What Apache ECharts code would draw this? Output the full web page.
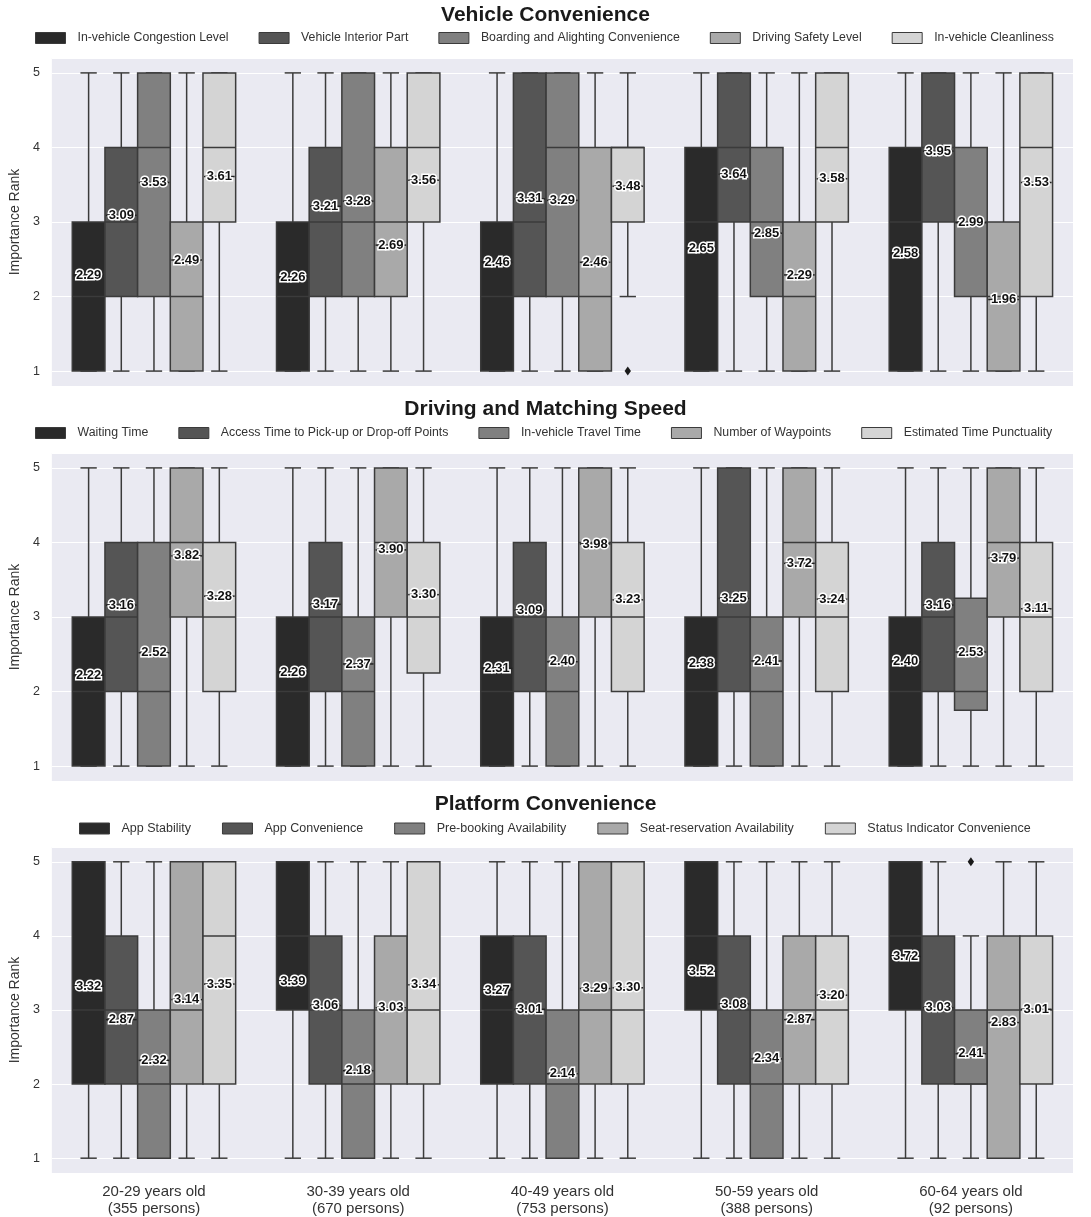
<!DOCTYPE html>
<html>
<head>
<meta charset="utf-8">
<script src="https://cdn.jsdelivr.net/npm/echarts@6/dist/echarts.min.js"></script>
<style>
html,body{margin:0;padding:0;background:#fff;}
#chart{width:1091px;height:1217px;}
</style>
</head>
<body>
<div id="chart"></div>
<script>
// ---------- DATA ----------
const categories = [
  '20-29 years old\n(355 persons)',
  '30-39 years old\n(670 persons)',
  '40-49 years old\n(753 persons)',
  '50-59 years old\n(388 persons)',
  '60-64 years old\n(92 persons)'
];
const panelTitles = ['Vehicle Convenience', 'Driving and Matching Speed', 'Platform Convenience'];
const yTicks = [1, 2, 3, 4, 5];

const vcSeries = ['In-vehicle Congestion Level', 'Vehicle Interior Part', 'Boarding and Alighting Convenience', 'Driving Safety Level', 'In-vehicle Cleanliness'];
const dmSeries = ['Waiting Time', 'Access Time to Pick-up or Drop-off Points', 'In-vehicle Travel Time', 'Number of Waypoints', 'Estimated Time Punctuality'];
const pcSeries = ['App Stability', 'App Convenience', 'Pre-booking Availability', 'Seat-reservation Availability', 'Status Indicator Convenience'];

// [min, Q1, median, Q3, max] per series (rows) and age group (columns)
const vcBox = [
  [[1,1,2,3,5],[1,1,2,3,5],[1,1,2,3,5],[1,1,3,4,5],[1,1,3,4,5]],
  [[1,2,3,4,5],[1,2,3,4,5],[1,2,3,5,5],[1,3,4,5,5],[1,3,4,5,5]],
  [[1,2,4,5,5],[1,2,3,5,5],[1,2,4,5,5],[1,2,3,4,5],[1,2,3,4,5]],
  [[1,1,2,3,5],[1,2,3,4,5],[1,1,2,4,5],[1,1,2,3,5],[1,1,2,3,5]],
  [[1,3,4,5,5],[1,3,4,5,5],[2,3,4,4,5],[1,3,4,5,5],[1,2,4,5,5]]
];
const dmBox = [
  [[1,1,2,3,5],[1,1,2,3,5],[1,1,2,3,5],[1,1,2,3,5],[1,1,2,3,5]],
  [[1,2,3,4,5],[1,2,3,4,5],[1,2,3,4,5],[1,2,3,5,5],[1,2,3,4,5]],
  [[1,1,2,4,5],[1,1,2,3,5],[1,1,2,3,5],[1,1,2,3,5],[1,1.75,2,3.25,5]],
  [[1,3,4,5,5],[1,3,4,5,5],[1,3,4,5,5],[1,3,4,5,5],[1,3,4,5,5]],
  [[1,2,3,4,5],[1,2.25,3,4,5],[1,2,3,4,5],[1,2,3,4,5],[1,2,3,4,5]]
];
const pcBox = [
  [[1,2,3,5,5],[1,3,4,5,5],[1,2,3,4,5],[1,3,4,5,5],[1,3,4,5,5]],
  [[1,2,3,4,5],[1,2,3,4,5],[1,2,3,4,5],[1,2,3,4,5],[1,2,3,4,5]],
  [[1,1,2,3,5],[1,1,2,3,5],[1,1,2,3,5],[1,1,2,3,5],[1,2,2,3,4]],
  [[1,2,3,5,5],[1,2,3,4,5],[1,2,3,5,5],[1,2,3,4,5],[1,1,3,4,5]],
  [[1,2,4,5,5],[1,2,3,5,5],[1,2,3,5,5],[1,2,3,4,5],[1,2,3,4,5]]
];

// mean values (labels)
const vcMean = [[2.29,2.26,2.46,2.65,2.58],[3.09,3.21,3.31,3.64,3.95],[3.53,3.28,3.29,2.85,2.99],[2.49,2.69,2.46,2.29,1.96],[3.61,3.56,3.48,3.58,3.53]];
const dmMean = [[2.22,2.26,2.31,2.38,2.40],[3.16,3.17,3.09,3.25,3.16],[2.52,2.37,2.40,2.41,2.53],[3.82,3.90,3.98,3.72,3.79],[3.28,3.30,3.23,3.24,3.11]];
const pcMean = [[3.32,3.39,3.27,3.52,3.72],[2.87,3.06,3.01,3.08,3.03],[2.32,2.18,2.14,2.34,2.41],[3.14,3.03,3.29,2.87,2.83],[3.35,3.34,3.30,3.20,3.01]];

// outliers: [seriesIndex, categoryIndex, value]
const vcOutliers = [[4, 2, 1]];
const dmOutliers = [];
const pcOutliers = [[2, 4, 5]];

// ---------- STYLE ----------
const FONT = '"Liberation Sans", Arial, Helvetica, sans-serif';
const fills = ['#2a2a2a', '#555555', '#808080', '#a9a9a9', '#d4d4d4'];
const edge = '#3b3b3b';
const gridTops = [58, 453, 847];
const gridH = 328;
const titleTops = [5, 399, 794];
const legendTops = [32, 427, 822];
const legendLefts = [35, 35, 79];
const legendFont = [12.3, 12.3, 12.5];
const legendGap = [30, 30, 31];

const panels = [
  {names: vcSeries, box: vcBox, mean: vcMean, out: vcOutliers},
  {names: dmSeries, box: dmBox, mean: dmMean, out: dmOutliers},
  {names: pcSeries, box: pcBox, mean: pcMean, out: pcOutliers}
];

function geom(api, cat, sIdx) {
  const band = api.size([1, 0])[0];
  const boxW = band * 0.8 / 5;
  const cx = api.coord([cat, 3])[0] + (sIdx - 2) * boxW;
  return {boxW, cx};
}

function boxRenderer(sIdx) {
  return function (params, api) {
    const cat = api.value(0);
    const v = [api.value(1), api.value(2), api.value(3), api.value(4), api.value(5)];
    const g = geom(api, cat, sIdx);
    const y = val => api.coord([cat, val])[1];
    const half = g.boxW / 2, cap = g.boxW / 4;
    const ls = {stroke: edge, lineWidth: 1.5};
    const ch = [];
    ch.push({type: 'line', shape: {x1: g.cx, y1: y(v[0]), x2: g.cx, y2: y(v[1])}, style: ls});
    ch.push({type: 'line', shape: {x1: g.cx, y1: y(v[3]), x2: g.cx, y2: y(v[4])}, style: ls});
    ch.push({type: 'line', shape: {x1: g.cx - cap, y1: y(v[0]), x2: g.cx + cap, y2: y(v[0])}, style: ls});
    ch.push({type: 'line', shape: {x1: g.cx - cap, y1: y(v[4]), x2: g.cx + cap, y2: y(v[4])}, style: ls});
    ch.push({type: 'rect', shape: {x: g.cx - half, y: y(v[3]), width: g.boxW, height: y(v[1]) - y(v[3])},
      style: {fill: fills[sIdx], stroke: edge, lineWidth: 1.5}});
    ch.push({type: 'line', shape: {x1: g.cx - half, y1: y(v[2]), x2: g.cx + half, y2: y(v[2])}, style: ls});
    return {type: 'group', children: ch};
  };
}

function labelRenderer(params, api) {
  const cat = api.value(0), m = api.value(1), s = api.value(2);
  const g = geom(api, cat, s);
  const yy = api.coord([cat, m])[1];
  return {type: 'group', children: [
    {type: 'line', shape: {x1: g.cx - g.boxW / 2 + 1, y1: yy, x2: g.cx + g.boxW / 2 - 1, y2: yy},
      style: {stroke: '#222', lineWidth: 1.5}},
    {type: 'text', x: g.cx, y: yy, style: {text: m.toFixed(2), align: 'center', verticalAlign: 'middle',
      fill: '#111', stroke: '#ffffff', lineWidth: 3, font: 'bold 13px ' + FONT}}
  ]};
}

function outlierRenderer(params, api) {
  const cat = api.value(0), val = api.value(1), s = api.value(2);
  const g = geom(api, cat, s);
  const p = api.coord([cat, val]);
  const x = g.cx, yy = p[1];
  return {type: 'polygon', shape: {points: [[x, yy - 4.5], [x + 3.2, yy], [x, yy + 4.5], [x - 3.2, yy]]},
    style: {fill: '#1a1a1a'}};
}

const option = {
  backgroundColor: '#ffffff',
  animation: false,
  title: panelTitles.map((t, i) => ({
    text: t, left: 'center', top: titleTops[i], padding: 0,
    textStyle: {fontFamily: FONT, fontSize: 21, fontWeight: 'bold', color: '#1a1a1a'}
  })),
  legend: panels.map((p, i) => ({
    data: p.names, top: legendTops[i], left: legendLefts[i], padding: 0,
    itemWidth: 30, itemHeight: 11, itemGap: legendGap[i], icon: 'rect',
    itemStyle: {borderColor: edge, borderWidth: 1},
    textStyle: {fontFamily: FONT, fontSize: legendFont[i], color: '#333', padding: [0, 0, 0, 7]},
    selectedMode: false
  })),
  grid: gridTops.map(t => ({
    left: 49, right: 18, top: t, height: gridH, show: true,
    backgroundColor: '#eaeaf2', borderWidth: 0
  })),
  xAxis: [0, 1, 2].map(i => ({
    type: 'category', gridIndex: i, data: categories,
    axisLine: {show: false}, axisTick: {show: false}, splitLine: {show: false},
    axisLabel: {show: i === 2, fontFamily: FONT, fontSize: 15, color: '#333', lineHeight: 17, margin: 10}
  })),
  yAxis: [0, 1, 2].map(i => ({
    type: 'value', gridIndex: i, min: 0.8, max: 5.2, splitNumber: 4,
    name: 'Importance Rank', nameLocation: 'middle', nameGap: 26,
    nameTextStyle: {fontFamily: FONT, fontSize: 14, color: '#333'},
    axisLine: {show: false}, axisTick: {show: false},
    axisLabel: {fontFamily: FONT, fontSize: 12.5, color: '#333', margin: 12,
      formatter: v => (yTicks.indexOf(Math.round(v * 100) / 100) >= 0 ? String(Math.round(v)) : '')},
    splitLine: {lineStyle: {color: '#ffffff', width: 1.2}}
  })),
  series: []
};

panels.forEach((p, pi) => {
  p.names.forEach((name, s) => {
    option.series.push({
      type: 'custom', name: name, xAxisIndex: pi, yAxisIndex: pi,
      itemStyle: {color: fills[s], borderColor: edge, borderWidth: 1},
      encode: {x: 0, y: [1, 2, 3, 4, 5]},
      renderItem: boxRenderer(s),
      data: categories.map((c, ci) => [ci].concat(p.box[s][ci])),
      z: 2
    });
  });
  const labelData = [];
  p.mean.forEach((row, s) => row.forEach((m, ci) => labelData.push([ci, m, s])));
  option.series.push({
    type: 'custom', name: 'mean-' + pi, xAxisIndex: pi, yAxisIndex: pi,
    encode: {x: 0, y: 1}, renderItem: labelRenderer, data: labelData, z: 5
  });
  if (p.out.length) {
    option.series.push({
      type: 'custom', name: 'outlier-' + pi, xAxisIndex: pi, yAxisIndex: pi,
      encode: {x: 0, y: 1}, renderItem: outlierRenderer,
      data: p.out.map(o => [o[1], o[2], o[0]]), z: 4
    });
  }
});

const chart = echarts.init(document.getElementById('chart'), null, {renderer: 'canvas'});
chart.setOption(option);
</script>
</body>
</html>
